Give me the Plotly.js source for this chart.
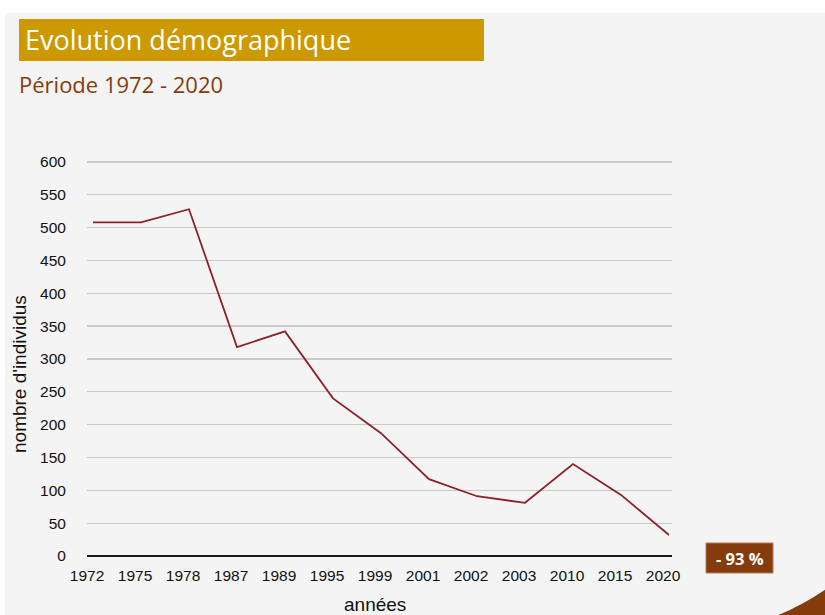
<!DOCTYPE html>
<html>
<head>
<meta charset="utf-8">
<script src="https://cdn.plot.ly/plotly-3.0.1.min.js"></script>
<style>
  html, body { margin: 0; padding: 0; background: #ffffff; width: 825px; height: 615px; overflow: hidden; }
  #chart { position: absolute; left: 5px; top: 13px; width: 820px; height: 602px; }
</style>
</head>
<body>
<div id="chart"></div>
<script>
// ---- Data ----
const years = ["1972", "1975", "1978", "1987", "1989", "1995", "1999", "2001", "2002", "2003", "2010", "2015", "2020"];
const individus = [508, 508, 528, 318, 342, 240, 187, 117, 91, 81, 140, 93, 32];
const yTicks = [0, 50, 100, 150, 200, 250, 300, 350, 400, 450, 500, 550, 600];
const titleText = "Evolution démographique";
const subtitleText = "Période 1972 - 2020";
const yTitle = "nombre d'individus";
const xTitle = "années";
const badgeText = "- 93 %";

// ---- Geometry (pixels inside the chart div) ----
const W = 820, H = 602;
const ML = 82, MR = 153, MT = 145, MB = 59;
const PW = W - ML - MR, PH = H - MT - MB;
const px = x => (x - ML) / PW;
const py = y => 1 - (y - MT) / PH;

const brown = "#843C0C";
const axisFont = { family: "Liberation Sans, Arial, sans-serif", size: 15.5, color: "#111" };

const trace = {
  type: "scatter",
  mode: "lines",
  x: years,
  y: individus,
  line: { color: "#8B2228", width: 1.8 },
  hoverinfo: "x+y"
};

const layout = {
  width: W,
  height: H,
  paper_bgcolor: "#f4f4f4",
  plot_bgcolor: "#f4f4f4",
  margin: { l: ML, r: MR, t: MT, b: MB, pad: 0 },
  showlegend: false,
  font: axisFont,
  xaxis: {
    type: "category",
    range: [-0.125, 12.0625],
    showgrid: false,
    zeroline: false,
    showline: false,
    ticks: "outside",
    ticklen: 5,
    tickcolor: "rgba(0,0,0,0)",
    ticklabelshift: -6,
    tickfont: axisFont,
    fixedrange: true
  },
  yaxis: {
    range: [0, 606],
    tickvals: yTicks,
    showgrid: true,
    gridcolor: "#c9c9c9",
    gridwidth: 1.3,
    zeroline: true,
    zerolinecolor: "#1a1a1a",
    zerolinewidth: 2,
    showline: false,
    ticks: "outside",
    ticklen: 17,
    tickcolor: "rgba(0,0,0,0)",
    tickfont: axisFont,
    fixedrange: true
  },
  shapes: [
    // title box
    { type: "rect", xref: "paper", yref: "paper", x0: px(14), x1: px(479), y0: py(6), y1: py(48),
      fillcolor: "#CC9900", line: { width: 0 }, layer: "below" },
    // badge
    { type: "rect", xref: "paper", yref: "paper", x0: px(701), x1: px(768), y0: py(530), y1: py(560),
      fillcolor: brown, line: { color: "#b07a5a", width: 1 } },
    // corner wedge
    { type: "path", xref: "paper", yref: "paper",
      path: `M ${px(771)} ${py(603)} Q ${px(798)} ${py(592)} ${px(821)} ${py(576)} L ${px(821)} ${py(603)} Z`,
      fillcolor: brown, line: { width: 0 } }
  ],
  annotations: [
    { text: titleText, xref: "paper", yref: "paper", x: px(18), y: py(27), xanchor: "left", yanchor: "middle",
      showarrow: false, font: { family: "Open Sans, sans-serif", size: 27, color: "#ffffff" } },
    { text: subtitleText, xref: "paper", yref: "paper", x: px(12), y: py(71), xanchor: "left", yanchor: "middle",
      showarrow: false, font: { family: "Open Sans, sans-serif", size: 22, color: brown } },
    { text: "<b>" + badgeText + "</b>", xref: "paper", yref: "paper", x: px(734.5), y: py(545), xanchor: "center", yanchor: "middle",
      showarrow: false, font: { family: "Open Sans, sans-serif", size: 16.5, color: "#ffffff" } },
    { text: yTitle, xref: "paper", yref: "paper", x: px(14), y: py(361), xanchor: "center", yanchor: "middle",
      textangle: -90, showarrow: false, font: { family: "Liberation Sans, Arial, sans-serif", size: 19, color: "#111" } },
    { text: xTitle, xref: "paper", yref: "paper", x: px(370), y: py(591), xanchor: "center", yanchor: "middle",
      showarrow: false, font: { family: "Liberation Sans, Arial, sans-serif", size: 19, color: "#111" } }
  ]
};

Plotly.newPlot("chart", [trace], layout, { displayModeBar: false, staticPlot: true });
</script>
</body>
</html>
